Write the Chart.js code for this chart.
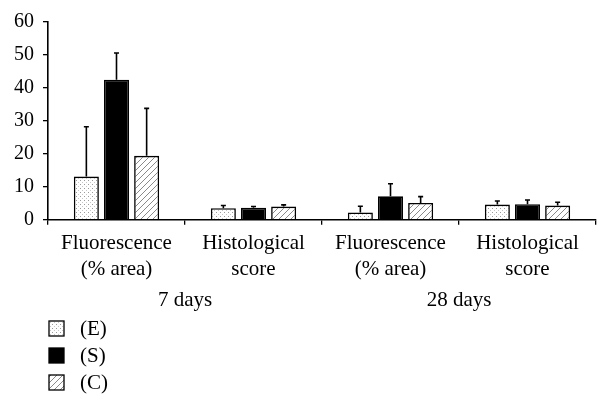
<!DOCTYPE html>
<html>
<head>
<meta charset="utf-8">
<script src="https://cdn.jsdelivr.net/npm/chart.js@4.4.1/dist/chart.umd.min.js"></script>
<style>
html,body{margin:0;padding:0;background:#fff;}
#wrap{width:610px;height:409px;position:relative;}
</style>
</head>
<body>
<div id="wrap"><canvas id="c" width="610" height="409"></canvas></div>
<script>
const categories = [["Fluorescence","(% area)"],["Histological","score"],["Fluorescence","(% area)"],["Histological","score"]];
const groups = ["7 days","28 days"];
const seriesNames = ["(E)","(S)","(C)"];
const valuesE = [13.1, 3.5, 2.2, 4.6];
const errorsE = [15.1, 0.8, 1.9, 1.1];
const valuesS = [42.5, 3.6, 7.1, 4.7];
const errorsS = [8.1, 0.4, 3.8, 1.3];
const valuesC = [19.4, 4.0, 5.1, 4.3];
const errorsC = [14.4, 0.5, 1.9, 1.0];
const yTicks = [0, 10, 20, 30, 40, 50, 60];

const FONT = "'Liberation Serif', 'DejaVu Serif', serif";

function dotPattern() {
  const t = document.createElement('canvas');
  t.width = 4; t.height = 4;
  const g = t.getContext('2d');
  g.fillStyle = '#ffffff'; g.fillRect(0,0,4,4);
  g.fillStyle = '#9a9a9a';
  g.fillRect(0,0,1,1);
  g.fillStyle = '#c8c8c8';
  g.fillRect(2,2,1,1);
  return g.createPattern(t, 'repeat');
}
function hatchPattern() {
  const s = 6;
  const t = document.createElement('canvas');
  t.width = s; t.height = s;
  const g = t.getContext('2d');
  g.fillStyle = '#ffffff'; g.fillRect(0,0,s,s);
  g.strokeStyle = '#8a8a8a'; g.lineWidth = 1;
  g.beginPath();
  g.moveTo(0, s); g.lineTo(s, 0);
  g.moveTo(-1, 1); g.lineTo(1, -1);
  g.moveTo(s-1, s+1); g.lineTo(s+1, s-1);
  g.stroke();
  return g.createPattern(t, 'repeat');
}

const fills = [dotPattern(), '#000000', hatchPattern()];
const allValues = [valuesE, valuesS, valuesC];
const allErrors = [errorsE, errorsS, errorsC];

const errorBarPlugin = {
  id: 'errorBars',
  afterDatasetsDraw(chart) {
    const ctx = chart.ctx;
    const y = chart.scales.y;
    ctx.save();
    ctx.strokeStyle = '#000';
    ctx.lineWidth = 1.6;
    chart.data.datasets.forEach((ds, di) => {
      const meta = chart.getDatasetMeta(di);
      meta.data.forEach((bar, i) => {
        const top = y.getPixelForValue(ds.data[i] + ds.errors[i]);
        ctx.beginPath();
        ctx.moveTo(bar.x, bar.y);
        ctx.lineTo(bar.x, top);
        ctx.moveTo(bar.x - 2.5, top);
        ctx.lineTo(bar.x + 2.5, top);
        ctx.stroke();
      });
    });
    ctx.restore();
  }
};

const legendPlugin = {
  id: 'stackLegend',
  afterDraw(chart) {
    const ctx = chart.ctx;
    ctx.save();
    const x0 = 49, y0 = 321, step = 27, bw = 15, bh = 15;
    chart.data.datasets.forEach((ds, i) => {
      const yy = y0 + i * step;
      ctx.fillStyle = ds.backgroundColor;
      ctx.fillRect(x0, yy, bw, bh);
      ctx.strokeStyle = '#000';
      ctx.lineWidth = 1.3;
      ctx.strokeRect(x0, yy, bw, bh);
      ctx.fillStyle = '#000';
      ctx.font = "21px " + FONT;
      ctx.textBaseline = 'middle';
      ctx.textAlign = 'left';
      ctx.fillText(ds.label, 80, yy + bh / 2 + 1);
    });
    ctx.restore();
  }
};

new Chart(document.getElementById('c'), {
  type: 'bar',
  data: {
    labels: categories,
    datasets: seriesNames.map((n, i) => ({
      label: n,
      data: allValues[i],
      errors: allErrors[i],
      backgroundColor: fills[i],
      borderColor: '#000',
      borderWidth: 1.6,
      categoryPercentage: 0.66,
      barPercentage: 0.83,
      xAxisID: 'x'
    }))
  },
  options: {
    responsive: false,
    animation: false,
    devicePixelRatio: 1,
    layout: { padding: { left: 5, right: 14, top: 22, bottom: 97 } },
    plugins: { legend: { display: false }, tooltip: { enabled: false } },
    scales: {
      x: {
        type: 'category',
        position: 'bottom',
        grid: { display: true, drawOnChartArea: false, drawTicks: true, tickLength: 5, color: '#000', lineWidth: 1.3 },
        border: { display: true, color: '#000', width: 1.6 },
        ticks: { color: '#000', font: { family: FONT, size: 21, lineHeight: 1.24 }, padding: 6, maxRotation: 0, autoSkip: false }
      },
      x2: {
        type: 'category',
        position: 'bottom',
        labels: groups,
        offset: true,
        grid: { display: false, drawTicks: false },
        border: { display: false },
        ticks: { color: '#000', font: { family: FONT, size: 21 }, padding: -1, maxRotation: 0 }
      },
      y: {
        min: 0, max: 60,
        afterBuildTicks(scale) { scale.ticks = yTicks.map(v => ({ value: v })); },
        grid: { display: true, drawOnChartArea: false, drawTicks: true, tickLength: 5, color: '#000', lineWidth: 1.3 },
        border: { display: true, color: '#000', width: 1.6 },
        ticks: { color: '#000', font: { family: FONT, size: 20 }, padding: 9 }
      }
    }
  },
  plugins: [errorBarPlugin, legendPlugin]
});
</script>
</body>
</html>
